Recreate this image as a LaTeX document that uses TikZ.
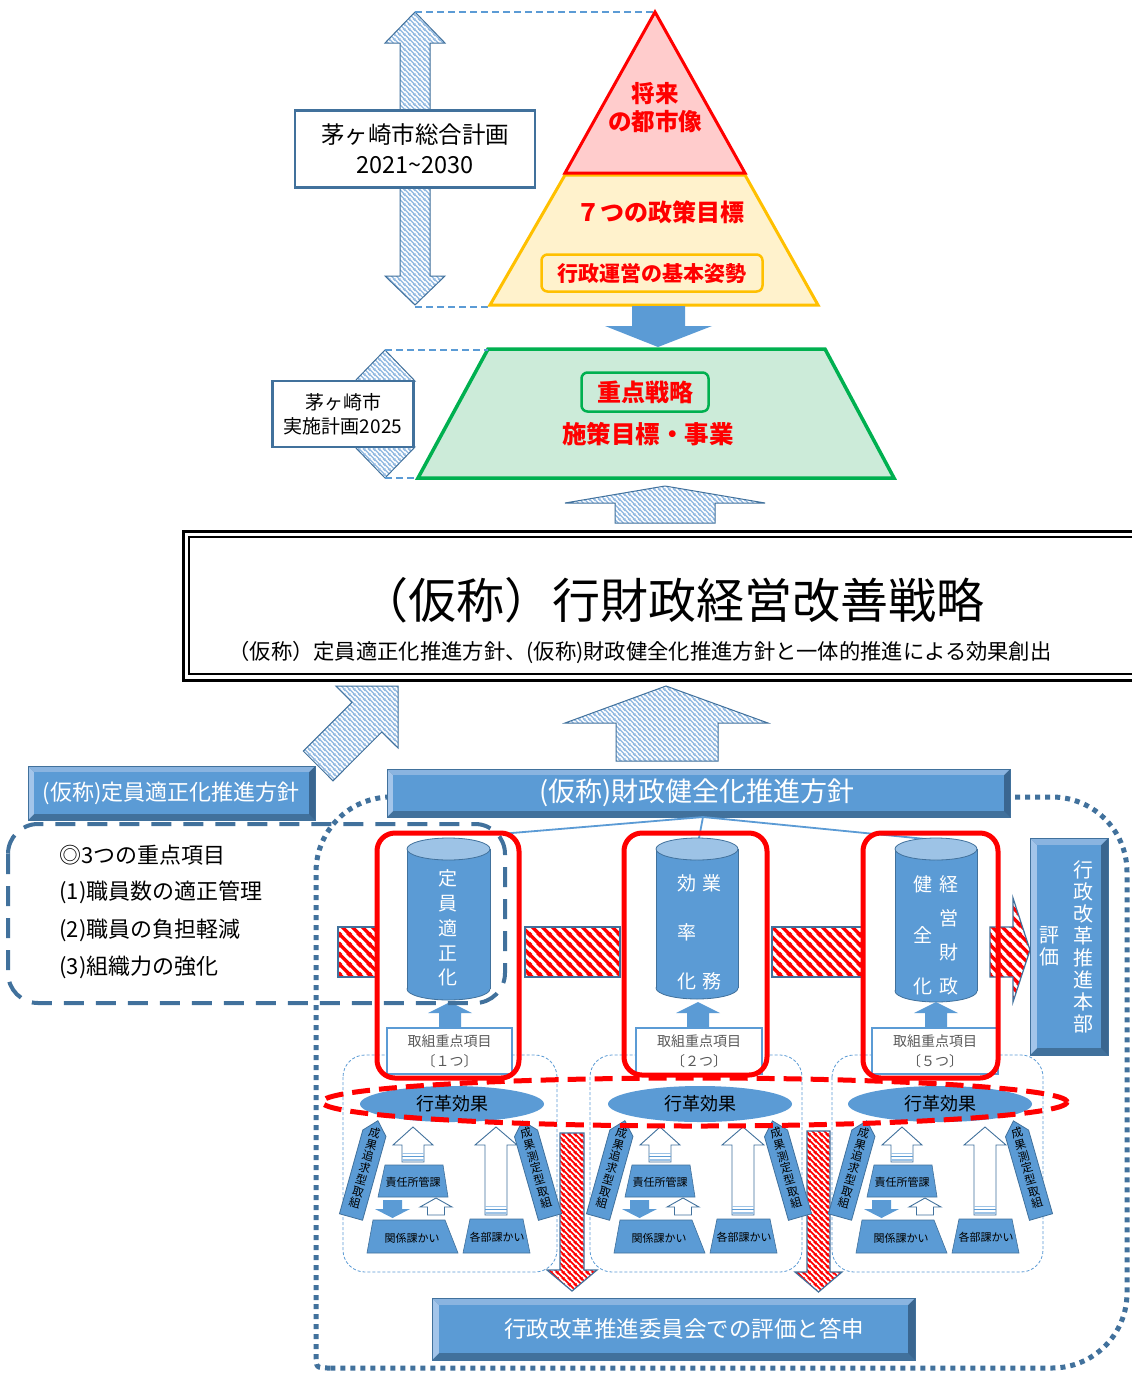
\documentclass[tikz,border=0pt]{standalone}
\usepackage{fontspec}
\setmainfont{Noto Sans CJK JP}
\usetikzlibrary{patterns,shapes.geometric}

\definecolor{bmain}{HTML}{5B9BD5}
\definecolor{bedge}{HTML}{41719C}
\definecolor{blight}{HTML}{9DC3E6}
\definecolor{btop}{HTML}{8AB4E0}
\definecolor{bleft}{HTML}{A3C5EA}
\definecolor{bbot}{HTML}{41719C}
\definecolor{bright}{HTML}{3A6690}
\definecolor{hatchb}{HTML}{8DB6E0}
\definecolor{pinkf}{HTML}{FFCCCC}
\definecolor{yelf}{HTML}{FFF2CC}
\definecolor{yeld}{HTML}{FFC000}
\definecolor{grnf}{HTML}{CCEBD9}
\definecolor{grnd}{HTML}{00B050}
\definecolor{txtgray}{HTML}{595959}

\newcommand\fsz[2]{\fontsize{#1}{#2}\selectfont}

\pgfdeclarepatternformonly{hatchB}{\pgfqpoint{0pt}{0pt}}{\pgfqpoint{5pt}{5pt}}{\pgfqpoint{5pt}{5pt}}{%
 \pgfsetlinewidth{1.5pt}%
 \pgfpathmoveto{\pgfqpoint{-1pt}{6pt}}\pgfpathlineto{\pgfqpoint{6pt}{-1pt}}%
 \pgfpathmoveto{\pgfqpoint{-2.5pt}{2.5pt}}\pgfpathlineto{\pgfqpoint{2.5pt}{-2.5pt}}%
 \pgfpathmoveto{\pgfqpoint{2.5pt}{7.5pt}}\pgfpathlineto{\pgfqpoint{7.5pt}{2.5pt}}%
 \pgfusepath{stroke}}
\pgfdeclarepatternformonly{hatchR}{\pgfqpoint{0pt}{0pt}}{\pgfqpoint{10pt}{10pt}}{\pgfqpoint{10pt}{10pt}}{%
 \pgfsetlinewidth{3.6pt}%
 \pgfpathmoveto{\pgfqpoint{-2pt}{12pt}}\pgfpathlineto{\pgfqpoint{12pt}{-2pt}}%
 \pgfpathmoveto{\pgfqpoint{-5pt}{5pt}}\pgfpathlineto{\pgfqpoint{5pt}{-5pt}}%
 \pgfpathmoveto{\pgfqpoint{5pt}{15pt}}\pgfpathlineto{\pgfqpoint{15pt}{5pt}}%
 \pgfusepath{stroke}}
\pgfdeclarepatternformonly{hatchRf}{\pgfqpoint{0pt}{0pt}}{\pgfqpoint{6pt}{6pt}}{\pgfqpoint{6pt}{6pt}}{%
 \pgfsetlinewidth{2pt}%
 \pgfpathmoveto{\pgfqpoint{-2pt}{8pt}}\pgfpathlineto{\pgfqpoint{8pt}{-2pt}}%
 \pgfpathmoveto{\pgfqpoint{-3pt}{3pt}}\pgfpathlineto{\pgfqpoint{3pt}{-3pt}}%
 \pgfpathmoveto{\pgfqpoint{3pt}{9pt}}\pgfpathlineto{\pgfqpoint{9pt}{3pt}}%
 \pgfusepath{stroke}}

% beveled button: x1 y1 x2 y2 bevel
\newcommand\bevelbox[5]{%
 \fill[bright] (#1,#2) rectangle (#3,#4);
 \fill[bbot] (#1,#4) -- (#3,#4) -- ({#3-#5},{#4-#5}) -- ({#1+#5},{#4-#5}) -- cycle;
 \fill[btop] (#1,#2) -- (#3,#2) -- ({#3-#5},{#2+#5}) -- ({#1+#5},{#2+#5}) -- cycle;
 \fill[bleft] (#1,#2) -- ({#1+#5},{#2+#5}) -- ({#1+#5},{#4-#5}) -- (#1,#4) -- cycle;
 \fill[bmain] ({#1+#5},{#2+#5}) rectangle ({#3-#5},{#4-#5});
 \draw[bedge, line width=1] (#1,#2) rectangle (#3,#4);}

% cylinder: x1 x2 ytop ybot ry
\newcommand\cylshape[5]{%
 \filldraw[fill=bmain, draw=bedge, line width=0.8] ({(#1+#2)/2},#4) ellipse [x radius={(#2-#1)/2}, y radius=#5];
 \fill[bmain] (#1,#3) rectangle (#2,#4);
 \draw[bedge, line width=0.8] (#1,#3) -- (#1,#4) (#2,#3) -- (#2,#4);
 \filldraw[fill=blight, draw=bedge, line width=0.8] ({(#1+#2)/2},#3) ellipse [x radius={(#2-#1)/2}, y radius=#5];}

% white up arrow: xc ytip yhead headhalf shafthalf ybottom
\newcommand\wup[6]{%
 \filldraw[fill=white, draw=bedge, line width=0.9] (#1,#2) -- ({#1+#4},#3) -- ({#1+#5},#3) -- ({#1+#5},#6) -- ({#1-#5},#6) -- ({#1-#5},#3) -- ({#1-#4},#3) -- cycle;}
\newcommand\wstripe[3]{%
 \draw[blight, line width=1.6] ({#1-#2},{#3-2}) -- ({#1+#2},{#3-2});
 \draw[bmain, line width=1.2] ({#1-#2},{#3-5.5}) -- ({#1+#2},{#3-5.5});
 \draw[blight, line width=1] ({#1-#2},{#3-8.5}) -- ({#1+#2},{#3-8.5});}

% tilted pentagon arrow: x y angle text name
\newcommand\tilt[5]{%
 \begin{scope}[shift={(#1,#2)}, rotate=#3]
 \filldraw[fill=bmain, draw=bedge, line width=0.8] (-12,0) -- (12,0) -- (12,-87) -- (0,-100) -- (-12,-87) -- cycle;
 \node[rotate=#3, align=center, inner sep=0, font=\fsz{11.5}{12.2}] (#5) at (0,-51) {#4};
 \end{scope}}

\begin{document}
\begin{tikzpicture}[x=1pt,y=-1pt,
  hatch/.style={preaction={fill=white}, pattern=hatchB, pattern color=hatchb, draw=bedge, line width=1},
  rhatch/.style={preaction={fill=white}, pattern=hatchR, pattern color=red, draw=bedge, line width=1.2},
  rfhatch/.style={preaction={fill=white}, pattern=hatchRf, pattern color=red, draw=bedge, line width=1.2},
  guide/.style={draw=bmain, line width=2, dash pattern=on 7 off 4},
  planbox/.style={draw=bedge, line width=2.5, fill=white, inner sep=2, align=center},
  redtxt/.style={text=red},
  cyltxt/.style={text=white, align=center, inner sep=0},
  redbox/.style={draw=red, line width=5, rounded corners=18},
  torikumi/.style={draw=bmain, line width=2, fill=white, text=txtgray, align=center, inner sep=1, font=\fsz{14}{20}},
  panel/.style={draw=bmain, line width=0.8, dash pattern=on 3 off 2, rounded corners=22},
  dotline/.style={draw=bedge, line width=5, dash pattern=on 5 off 5},
  bigdash/.style={draw=bedge, line width=4, dash pattern=on 20 off 12, rounded corners=30},
  conn/.style={draw=bmain, line width=1.8},
  effell/.style={ellipse, fill=bmain, inner sep=0, minimum width=184, minimum height=36, font=\fsz{18}{20}},
  trap/.style={fill=bmain, draw=bedge, line width=0.6},
  traptxt/.style={font=\fsz{11}{13}, inner sep=0},
  btxt/.style={text=white, inner sep=0},
  listtxt/.style={anchor=west, font=\fsz{22}{24}}
]
\fill[white] (0,0) rectangle (1132,1374);
\useasboundingbox (0,0) rectangle (1132,1374);

% ================= top: general plan =================
\path[hatch] (415,12) -- (445,43) -- (430,43) -- (430,276) -- (445,276) -- (415,305) -- (385,276) -- (400,276) -- (400,43) -- (385,43) -- cycle;
\draw[guide] (415,12) -- (655,12);
\draw[guide] (415,307) -- (490,307);
\node[planbox, minimum width=240, minimum height=77, font=\fsz{23.5}{30}] (plan1) at (415,149) {茅ヶ崎市総合計画\\2021\textasciitilde2030};

\filldraw[fill=yelf, draw=yeld, line width=3] (565,175) -- (745,175) -- (818,305) -- (490,305) -- cycle;
\filldraw[fill=pinkf, draw=red, line width=3] (655,12) -- (745,173) -- (565,173) -- cycle;
\node[redtxt, align=center, font=\bfseries\fsz{23.5}{28}] (vision) at (655,108) {将来\\の都市像};
\node[redtxt, font=\bfseries\fsz{24}{26}] (goals) at (660,212) {７つの政策目標};
\node[draw=yeld, line width=2.5, rounded corners=6, minimum width=221, minimum height=37, inner sep=1, redtxt, font=\bfseries\fsz{21}{22}] (stance) at (652,273) {行政運営の基本姿勢};

\fill[bmain] (632,306) -- (685,306) -- (685,326) -- (712,326) -- (658,347) -- (605,326) -- (632,326) -- cycle;

% ================= implementation plan =================
\filldraw[fill=grnf, draw=grnd, line width=3.5] (488,349) -- (825,349) -- (894,478) -- (418,478) -- cycle;
\node[draw=grnd, line width=2.5, rounded corners=6, minimum width=127, minimum height=39, redtxt, font=\bfseries\fsz{24}{26}] (focus) at (645,392) {重点戦略};
\node[redtxt, font=\bfseries\fsz{24.5}{26}] (measures) at (648,434) {施策目標・事業};

\path[hatch] (385,350) -- (415,381) -- (400,381) -- (400,447) -- (415,447) -- (385,478) -- (355,447) -- (370,447) -- (370,381) -- (355,381) -- cycle;
\draw[guide] (385,350) -- (488,350);
\draw[guide] (385,478) -- (418,478);
\node[planbox, minimum width=141, minimum height=66, font=\fsz{19}{24}] (plan2) at (343,414) {茅ヶ崎市\\実施計画2025};

\path[hatch] (665,486) -- (765,503) -- (715,503) -- (715,523) -- (615,523) -- (615,503) -- (565,503) -- cycle;

% ================= title box =================
\draw[line width=3] (183,531) rectangle (1150,680);
\draw[line width=1.3] (189,537) rectangle (1150,674);
\node[font=\fsz{48}{50}] (title) at (672,600) {（仮称）行財政経営改善戦略};
\node[font=\fsz{21.3}{24}] (subtitle) at (640,652) {（仮称）定員適正化推進方針、(仮称)財政健全化推進方針と一体的推進による効果創出};

% arrows into title
\path[hatch] (398,686) -- (398,748) -- (381.7,732) -- (333,780.8) -- (303.3,751) -- (352,702.3) -- (335.8,686) -- cycle;
\path[hatch] (666,686) -- (768,723) -- (718,723) -- (718,761) -- (616,761) -- (616,723) -- (565,723) -- cycle;

% ================= lower frame =================
\draw[dotline, rounded corners=75] (316,1300) -- (316,797) -- (1127,797) -- (1127,1368) -- (330,1368);
\draw[dotline] (330,1368) .. controls (316,1368) .. (316,1354) -- (316,1300);

\draw[panel] (343,1055) rectangle (557,1272);
\draw[panel] (590,1055) rectangle (802,1272);
\draw[panel] (832,1055) rectangle (1043,1272);

% headers
\bevelbox{28}{766}{315}{820}{6}
\node[btxt, font=\fsz{22}{24}] (teiin) at (171,793) {(仮称)定員適正化推進方針};
\bevelbox{387}{769}{1010}{817}{6}
\node[btxt, font=\fsz{27}{28}] (zaisei) at (697,793) {(仮称)財政健全化推進方針};

\coordinate (hub) at (703,817);
\coordinate (c1) at (500,834);
\coordinate (c2) at (699,838);
\coordinate (c3) at (936,840);
\draw[conn] (hub) -- (c1);
\draw[conn] (hub) -- (c2);
\draw[conn] (hub) -- (c3);

% red-white bars
\path[rhatch] (338,927) rectangle (376,977);
\path[rhatch] (525,927) rectangle (620,977);
\path[rhatch] (772,927) rectangle (862,977);
\path[rhatch] (990,927) -- (1013,927) -- (1013,898) -- (1030,950) -- (1013,1002) -- (1013,977) -- (990,977) -- cycle;

% cylinders
\cylshape{407}{490}{849}{989}{11}
\cylshape{656}{738}{849}{988}{11}
\cylshape{895}{977}{849}{991}{11}
\node[cyltxt, font=\fsz{19}{24.75}] (cylA) at (448,928) {定\\員\\適\\正\\化};
\node[cyltxt, font=\fsz{19}{49}] (cylB1) at (712,932) {業\\[49pt]務};
\node[cyltxt, font=\fsz{19}{49}] (cylB2) at (687,932) {効\\率\\化};
\node[cyltxt, font=\fsz{19}{34}] (cylC1) at (949,935) {経\\営\\財\\政};
\node[cyltxt, font=\fsz{19}{51}] (cylC2) at (923,935) {健\\全\\化};

% small up arrows
\foreach \cx in {450,698,936}{
  \fill[bmain] (\cx,1002) -- ({\cx+22},1013) -- ({\cx+11},1013) -- ({\cx+11},1029) -- ({\cx-11},1029) -- ({\cx-11},1013) -- ({\cx-22},1013) -- cycle;
}

% left dashed box
\draw[bigdash] (8,824) rectangle (505,1003);
\node[listtxt] (pt0) at (56,855) {◎3つの重点項目};
\node[listtxt] (pt1) at (56,892) {(1)職員数の適正管理};
\node[listtxt] (pt2) at (56,930) {(2)職員の負担軽減};
\node[listtxt] (pt3) at (56,967) {(3)組織力の強化};

% torikumi boxes
\node[torikumi, minimum width=125, minimum height=46] (tk1) at (449.5,1051) {取組重点項目\\〔１つ〕};
\node[torikumi, minimum width=126, minimum height=46] (tk2) at (699,1051) {取組重点項目\\〔２つ〕};
\node[torikumi, minimum width=126, minimum height=46] (tk3) at (935,1051) {取組重点項目\\〔５つ〕};

% red boxes
\draw[redbox] (377,833) rectangle (519,1078);
\draw[redbox] (624,833) rectangle (767,1075);
\draw[redbox] (863,833) rectangle (998,1078);

% red striped down arrows
\path[rfhatch] (560,1133) -- (584,1133) -- (584,1270) -- (597,1270) -- (572,1291) -- (547,1270) -- (560,1270) -- cycle;
\path[rfhatch] (807,1131) -- (830,1131) -- (830,1272) -- (842,1272) -- (818.5,1292) -- (795,1272) -- (807,1272) -- cycle;

% panel contents
\foreach \dx/\rdx/\ex [count=\i] in {0/0/452, 247/250/700, 489/491/940}{
  \wup{413+\dx}{1127}{1145}{20}{11}{1162}
  \wstripe{413+\dx}{11}{1162}
  \wup{496+\dx}{1127}{1145}{21}{11}{1215}
  \wstripe{496+\dx}{11}{1215}
  \wup{436+\dx}{1198}{1207}{16}{8.5}{1215}
  \fill[bmain] ({383+\dx},1200) -- ({402+\dx},1200) -- ({402+\dx},1209) -- ({410+\dx},1209) -- ({392.5+\dx},1218) -- ({375+\dx},1209) -- ({383+\dx},1209) -- cycle;
  \filldraw[trap] ({385+\dx},1165) -- ({443+\dx},1165) -- ({448+\dx},1197) -- ({378+\dx},1197) -- cycle;
  \node[traptxt] (sek\i) at ({413+\dx},1182) {責任所管課};
  \filldraw[trap] ({373+\dx},1220) -- ({445+\dx},1220) -- ({458+\dx},1253) -- ({367+\dx},1253) -- cycle;
  \node[traptxt] (kan\i) at ({412+\dx},1238) {関係課かい};
  \filldraw[trap] ({470+\dx},1219) -- ({523+\dx},1219) -- ({530+\dx},1253) -- ({463+\dx},1253) -- cycle;
  \node[traptxt] (kak\i) at ({497+\dx},1237) {各部課かい};
  \tilt{351+\dx}{1217}{-15.6}{成\\果\\追\\求\\型\\取\\組}{tl\i}
  \tilt{550+\rdx}{1217}{16}{成\\果\\測\\定\\型\\取\\組}{tr\i}
  \node[effell] (eff\i) at (\ex,1104) {行革効果};
}

% red dashed ellipse
\draw[red, line width=5, dash pattern=on 18 off 9] (694.5,1102) ellipse [x radius=372.5, y radius=24];

% right box
\bevelbox{1030}{838}{1108}{1055}{7}
\node[btxt, align=center, font=\fsz{20}{21.9}] (honbu) at (1083,947) {行\\政\\改\\革\\推\\進\\本\\部};
\node[btxt, align=center, font=\fsz{20}{22}] (hyoka) at (1049,946) {評\\価};

% bottom bar
\bevelbox{432}{1298}{915}{1360}{7}
\node[btxt, font=\fsz{22.5}{26}] (iinkai) at (684,1329) {行政改革推進委員会での評価と答申};

\end{tikzpicture}
\end{document}
